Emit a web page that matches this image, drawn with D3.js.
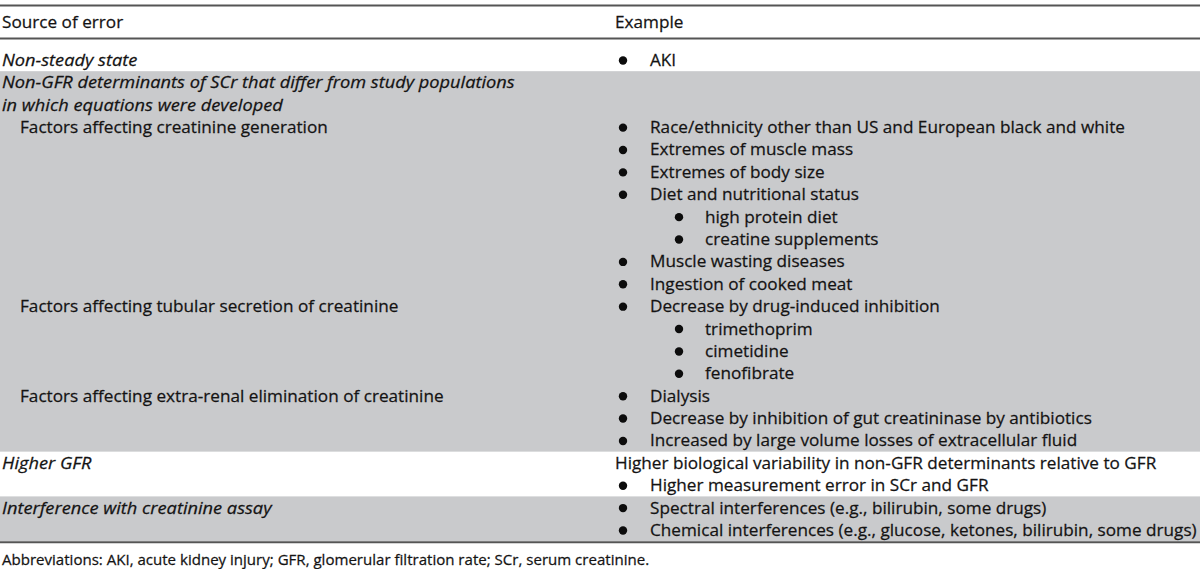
<!DOCTYPE html>
<html>
<head>
<meta charset="utf-8">
<script src="https://cdn.jsdelivr.net/npm/d3@7"></script>
<style>
  html, body { margin: 0; padding: 0; background: #fff; }
  svg { display: block; }
</style>
</head>
<body>
<svg id="chart" width="1200" height="569"></svg>
<script>
// ---------------- data ----------------
const headers = ["Source of error", "Example"];

const sourceText = [
  "Non-steady state",
  "Non-GFR determinants of SCr that differ from study populations",
  "in which equations were developed",
  "Factors affecting creatinine generation",
  "", "", "", "", "", "", "",
  "Factors affecting tubular secretion of creatinine",
  "", "", "",
  "Factors affecting extra-renal elimination of creatinine",
  "", "",
  "Higher GFR",
  "",
  "Interference with creatinine assay",
  ""
];
// 0 = section heading (italic), 1 = indented sub-factor
const sourceLevel = [0,0,0,1,0,0,0,0,0,0,0,1,0,0,0,1,0,0,0,0,0,0];

const exampleText = [
  "AKI",
  "", "",
  "Race/ethnicity other than US and European black and white",
  "Extremes of muscle mass",
  "Extremes of body size",
  "Diet and nutritional status",
  "high protein diet",
  "creatine supplements",
  "Muscle wasting diseases",
  "Ingestion of cooked meat",
  "Decrease by drug-induced inhibition",
  "trimethoprim",
  "cimetidine",
  "fenofibrate",
  "Dialysis",
  "Decrease by inhibition of gut creatininase by antibiotics",
  "Increased by large volume losses of extracellular fluid",
  "Higher biological variability in non-GFR determinants relative to GFR",
  "Higher measurement error in SCr and GFR",
  "Spectral interferences (e.g., bilirubin, some drugs)",
  "Chemical interferences (e.g., glucose, ketones, bilirubin, some drugs)"
];
// 0 = plain text, 1 = bullet, 2 = nested bullet
const exampleLevel = [1,0,0,1,1,1,1,2,2,1,1,1,2,2,2,1,1,1,0,1,1,1];

// sections: first row, last row, shaded
const sectionStart = [0, 1, 18, 20];
const sectionEnd   = [0, 17, 19, 21];
const sectionShade = [false, true, false, true];

const footnote = "Abbreviations: AKI, acute kidney injury; GFR, glomerular filtration rate; SCr, serum creatinine.";

// ---------------- layout ----------------
const W = 1200;
const svg = d3.select("#chart");
const FONT = "'Open Sans', 'Noto Sans', sans-serif";
const textColor = "#141313";
const lineColor = "#555555";
const shadeColor = "#c9cacc";

const nRows = exampleText.length;
const rowTop = 48.8, rowH = 22.38;
const y = d3.scaleBand()
  .domain(d3.range(nRows))
  .range([rowTop, rowTop + nRows * rowH])
  .paddingInner(0).paddingOuter(0);

const colX = d3.scaleOrdinal().domain(["source", "example"]).range([2, 615]);

// font size chosen for glyph height; horizontal squeeze chosen to match reference widths
const FS = 17, FS_FOOT = 15;
function squeeze(str, size, target, italic) {
  const p = svg.append("text").attr("font-family", FONT).attr("font-size", size)
    .attr("font-style", italic ? "italic" : "normal").text(str);
  const w = p.node().getComputedTextLength();
  p.remove();
  return Math.max(0.75, Math.min(1.1, target / w));
}
const kN = squeeze(exampleText[21], FS, 547, false);
const kI = squeeze(sourceText[1], FS, 513, true);
const kF = squeeze(footnote, FS_FOOT, 648, false);

function place(sel, xf, yf, k) {
  sel.attr("transform", (d, i) => `translate(${xf(d, i)},${yf(d, i)}) scale(${k},1)`)
     .attr("dy", "0.35em");
}

// shading
sectionStart.forEach((s, i) => {
  if (!sectionShade[i]) return;
  svg.append("rect")
    .attr("x", 0).attr("width", W)
    .attr("y", y(s)).attr("height", y(sectionEnd[i]) + y.bandwidth() - y(s))
    .attr("fill", shadeColor);
});

// rules
const topRule = 5.5, headRule = 38.5, bottomRule = y(nRows - 1) + y.bandwidth() + 1;
[topRule, headRule, bottomRule].forEach(yy => {
  svg.append("line").attr("x1", 0).attr("x2", W).attr("y1", yy).attr("y2", yy)
    .attr("stroke", lineColor).attr("stroke-width", 2);
});

const textStyle = sel => sel.attr("font-family", FONT).attr("fill", textColor)
  .attr("stroke", textColor).attr("stroke-width", 0.25);

// header
svg.selectAll("text.hdr").data(headers).join("text")
  .attr("class", "hdr")
  .call(textStyle).attr("font-size", FS)
  .call(place, (d, i) => colX(i === 0 ? "source" : "example"), () => 22, kN)
  .text(d => d);

// source column
const srcRows = sourceText.map((t, i) => ({t, i, lvl: sourceLevel[i]})).filter(d => d.t);
svg.selectAll("text.srcI").data(srcRows.filter(d => d.lvl === 0)).join("text")
  .attr("class", "srcI")
  .call(textStyle).attr("font-size", FS).attr("font-style", "italic")
  .call(place, d => colX("source"), d => y(d.i) + y.bandwidth() / 2, kI)
  .text(d => d.t);
svg.selectAll("text.srcN").data(srcRows.filter(d => d.lvl === 1)).join("text")
  .attr("class", "srcN")
  .call(textStyle).attr("font-size", FS)
  .call(place, d => colX("source") + 18, d => y(d.i) + y.bandwidth() / 2, kN)
  .text(d => d.t);

// example column
const exRows = exampleText.map((t, i) => ({t, i, lvl: exampleLevel[i]})).filter(d => d.t);
const bulletX = d3.scaleOrdinal().domain([1, 2]).range([623, 679]);
const textX = d3.scaleOrdinal().domain([0, 1, 2]).range([615, 650, 705]);

svg.selectAll("circle.bul").data(exRows.filter(d => d.lvl > 0)).join("circle")
  .attr("class", "bul")
  .attr("cx", d => bulletX(d.lvl))
  .attr("cy", d => y(d.i) + y.bandwidth() / 2 + 0.5)
  .attr("r", 4.2)
  .attr("fill", "#0c0c0c");

svg.selectAll("text.ex").data(exRows).join("text")
  .attr("class", "ex")
  .call(textStyle).attr("font-size", FS)
  .call(place, d => textX(d.lvl), d => y(d.i) + y.bandwidth() / 2, kN)
  .text(d => d.t);

// footnote
svg.append("text").datum(footnote)
  .call(textStyle).attr("font-size", FS_FOOT)
  .call(place, () => 2, () => 560, kF)
  .text(d => d);
</script>
</body>
</html>
